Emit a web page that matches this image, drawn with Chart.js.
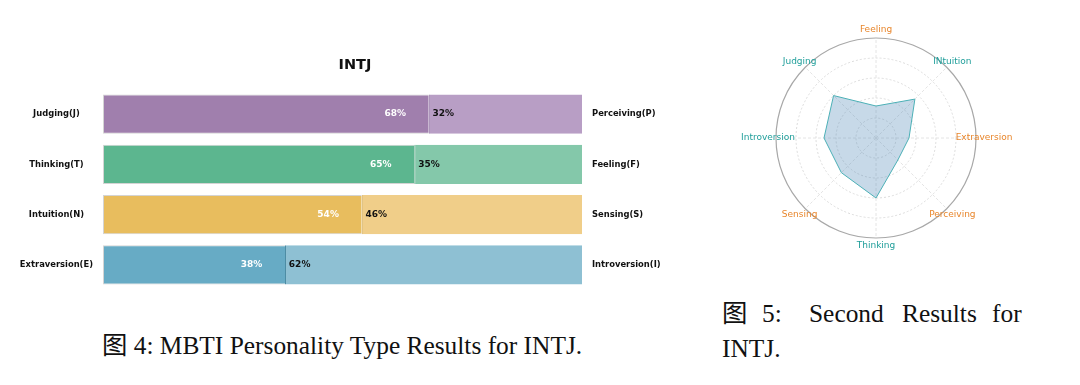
<!DOCTYPE html>
<html lang="en">
<head>
    <meta charset="UTF-8">
    <title>INTJ Results</title>
    <style>
        body { margin: 0; background: #fff; width: 1080px; height: 385px; position: relative; overflow: hidden; }
        #barChart { position: absolute; left: 0; top: 0; }
        #radarChart { position: absolute; left: 726px; top: 0; }
        .caption { position: absolute; font-family: "Liberation Serif", "Noto Sans CJK SC", serif; font-size: 25.4px; color: #111; line-height: 26px; white-space: nowrap; }
        #cap4 { left: 102px; top: 332px; }
        .w { position: absolute; top: 300px; }
        #cap5b { left: 722px; top: 335px; }
    </style>
</head>
<body>
    <canvas id="barChart" width="710" height="305"></canvas>
    <canvas id="radarChart" width="300" height="280"></canvas>
    <div class="caption" id="cap4">图 4: MBTI Personality Type Results for INTJ.</div>
    <div class="caption w" style="left:722px">图</div>
    <div class="caption w" style="left:762px">5:</div>
    <div class="caption w" style="left:809px">Second</div>
    <div class="caption w" style="left:902px">Results</div>
    <div class="caption w" style="left:992px">for</div>
    <div class="caption" id="cap5b">INTJ.</div>

    <script src="https://cdn.jsdelivr.net/npm/chart.js"></script>
    <script>
        // bar chart data
        const leftTraits = ['Judging(J)', 'Thinking(T)', 'Intuition(N)', 'Extraversion(E)'];
        const rightTraits = ['Perceiving(P)', 'Feeling(F)', 'Sensing(S)', 'Introversion(I)'];
        const leftPct = [68, 65, 54, 38];
        const rightPct = [32, 35, 46, 62];

        // radar data
        const radarAxes = ['Feeling', 'INtuition', 'Extraversion', 'Perceiving', 'Thinking', 'Sensing', 'Introversion', 'Judging'];
        const radarValues = [32, 55, 33, 31, 60, 49, 52, 60];

        const darkColors = ['#a07fad', '#5cb68f', '#e8bd5e', '#67abc5'];
        const lightColors = ['#b89ec5', '#84c8aa', '#f0ce89', '#8ec0d3'];
        const splitColors = ['#86679a', '#3f9570', '#c49a40', '#4a8aa3'];
        const tealAxes = ['INtuition', 'Thinking', 'Introversion', 'Judging'];

        const barFont = { family: 'DejaVu Sans', size: 8.4, weight: 'bold' };

        // percent labels on the bars
        const pctLabels = {
            id: 'pctLabels',
            afterDatasetsDraw(chart) {
                const ctx = chart.ctx;
                const x = chart.scales.x;
                ctx.save();
                ctx.font = 'bold 9px "DejaVu Sans"';
                ctx.textBaseline = 'middle';
                chart.getDatasetMeta(0).data.forEach((bar, i) => {
                    ctx.fillStyle = '#ffffff';
                    ctx.textAlign = 'center';
                    ctx.fillText(leftPct[i] + '%', x.getPixelForValue(leftPct[i] - 7), bar.y);
                    ctx.fillStyle = '#111111';
                    ctx.textAlign = 'left';
                    ctx.fillText(rightPct[i] + '%', x.getPixelForValue(leftPct[i] + 0.8), bar.y);
                });
                ctx.restore();
            }
        };

        new Chart(document.getElementById('barChart'), {
            type: 'bar',
            data: {
                labels: leftTraits,
                datasets: [{
                    data: leftPct,
                    backgroundColor: darkColors,
                    borderColor: '#d4d4d4',
                    borderWidth: { top: 1, left: 1, bottom: 1, right: 0 },
                    borderSkipped: false,
                    barPercentage: 0.78,
                    categoryPercentage: 1
                }, {
                    data: rightPct,
                    backgroundColor: lightColors,
                    borderColor: splitColors,
                    borderWidth: { top: 0, left: 1, bottom: 0, right: 0 },
                    borderSkipped: false,
                    barPercentage: 0.78,
                    categoryPercentage: 1
                }]
            },
            options: {
                indexAxis: 'y',
                responsive: false,
                animation: false,
                devicePixelRatio: 1,
                layout: { padding: { top: 56.6, bottom: 0, left: 0, right: 0 } },
                plugins: {
                    legend: { display: false },
                    tooltip: { enabled: false },
                    title: {
                        display: true,
                        text: 'INTJ',
                        color: '#111',
                        font: { family: 'DejaVu Sans', size: 14.5, weight: 'bold' },
                        padding: { top: 0, bottom: 15 }
                    }
                },
                scales: {
                    x: { stacked: true, min: 0, max: 100, display: false },
                    y: {
                        stacked: true,
                        position: 'left',
                        grid: { display: false, drawTicks: false },
                        border: { display: false },
                        ticks: { color: '#111', font: barFont, crossAlign: 'center', padding: 10 },
                        afterFit(scale) { scale.width = 103; }
                    },
                    y2: {
                        type: 'category',
                        labels: rightTraits,
                        position: 'right',
                        offset: true,
                        grid: { display: false, drawTicks: false },
                        border: { display: false },
                        ticks: { color: '#111', font: barFont, crossAlign: 'near', padding: 10 },
                        afterFit(scale) { scale.width = 128; }
                    }
                }
            },
            plugins: [pctLabels]
        });

        // axis names round the radar, centred at a fixed distance
        const radarNames = {
            id: 'radarNames',
            afterDraw(chart) {
                const ctx = chart.ctx;
                const r = chart.scales.r;
                ctx.save();
                ctx.font = '9px "DejaVu Sans"';
                ctx.textAlign = 'center';
                ctx.textBaseline = 'middle';
                radarAxes.forEach((name, i) => {
                    const p = r.getPointPosition(i, 108);
                    ctx.fillStyle = tealAxes.includes(name) ? '#1f9e9a' : '#e8862c';
                    ctx.fillText(name, p.x, p.y);
                });
                ctx.restore();
            }
        };

        new Chart(document.getElementById('radarChart'), {
            type: 'radar',
            data: {
                labels: radarAxes,
                datasets: [{
                    data: radarValues,
                    backgroundColor: 'rgba(70, 130, 180, 0.3)',
                    borderColor: '#4cb0b6',
                    borderWidth: 1,
                    pointRadius: 0,
                    fill: true
                }]
            },
            options: {
                responsive: false,
                animation: false,
                devicePixelRatio: 1,
                layout: { padding: { left: 50, right: 50, top: 38, bottom: 42 } },
                plugins: { legend: { display: false }, tooltip: { enabled: false } },
                scales: {
                    r: {
                        min: 0,
                        max: 100,
                        ticks: { display: false, stepSize: 20 },
                        pointLabels: { display: false },
                        grid: {
                            circular: true,
                            color: (c) => c.tick && c.tick.value === 100 ? '#a8a8a8' : '#dcdcdc',
                            lineWidth: (c) => c.tick && c.tick.value === 100 ? 1.2 : 1
                        },
                        border: { dash: (c) => c.tick && c.tick.value === 100 ? [] : [2, 2] },
                        angleLines: { color: '#e4e4e4', lineWidth: 1, borderDash: [3, 2] }
                    }
                }
            },
            plugins: [radarNames]
        });
    </script>
</body>
</html>
